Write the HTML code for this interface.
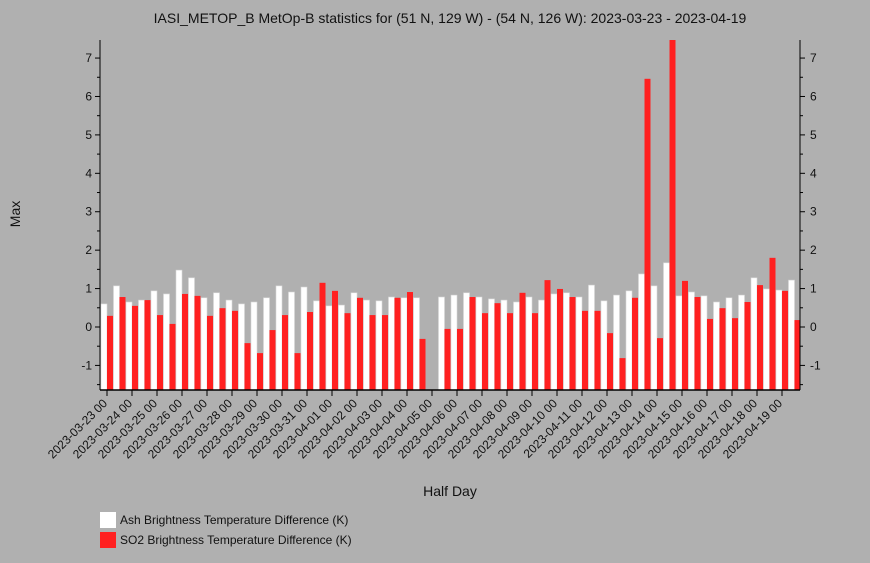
<!DOCTYPE html>
<html><head><meta charset="utf-8"><style>
body{margin:0;background:#b0b0b0;}
svg{display:block;font-family:"Liberation Sans",sans-serif;}
</style></head><body>
<svg id="chart" width="870" height="563" viewBox="0 0 870 563">
<rect width="870" height="563" fill="#b0b0b0"/>
<text x="450" y="23" text-anchor="middle" font-size="14" fill="#111">IASI_METOP_B MetOp-B statistics for (51 N, 129 W) - (54 N, 126 W): 2023-03-23 - 2023-04-19</text>
<text transform="translate(20,214) rotate(-90)" text-anchor="middle" font-size="14" fill="#111">Max</text>
<text x="450" y="496" text-anchor="middle" font-size="14" fill="#111">Half Day</text>
<g id="bars"></g>
<g id="axes"></g>
<g>
<rect x="100" y="512" width="16" height="16" fill="#fff"/>
<text x="120" y="524" font-size="12" fill="#111">Ash Brightness Temperature Difference (K)</text>
<rect x="100" y="532" width="16" height="16" fill="#ff2020"/>
<text x="120" y="544" font-size="12" fill="#111">SO2 Brightness Temperature Difference (K)</text>
</g>
</svg>
<script>
const ashValues=[0.6,1.07,0.65,0.7,0.94,0.86,1.48,1.28,0.76,0.89,0.7,0.6,0.65,0.76,1.07,0.91,1.04,0.68,0.55,0.57,0.89,0.7,0.68,0.78,0.76,0.76,null,0.78,0.83,0.89,0.78,0.73,0.7,0.65,0.78,0.7,0.86,0.89,0.78,1.09,0.68,0.83,0.94,1.38,1.07,1.67,0.81,0.91,0.81,0.65,0.76,0.83,1.28,0.99,0.96,1.22];
const so2Values=[0.29,0.78,0.55,0.7,0.31,0.08,0.86,0.81,0.29,0.49,0.42,-0.42,-0.68,-0.08,0.31,-0.68,0.39,1.15,0.94,0.36,0.76,0.31,0.31,0.76,0.91,-0.31,null,-0.05,-0.05,0.78,0.36,0.62,0.36,0.89,0.36,1.22,0.99,0.78,0.42,0.42,-0.16,-0.81,0.76,6.46,-0.29,7.6,1.2,0.78,0.21,0.49,0.23,0.65,1.09,1.8,0.94,0.18];
const dayLabels=["2023-03-23 00","2023-03-24 00","2023-03-25 00","2023-03-26 00","2023-03-27 00","2023-03-28 00","2023-03-29 00","2023-03-30 00","2023-03-31 00","2023-04-01 00","2023-04-02 00","2023-04-03 00","2023-04-04 00","2023-04-05 00","2023-04-06 00","2023-04-07 00","2023-04-08 00","2023-04-09 00","2023-04-10 00","2023-04-11 00","2023-04-12 00","2023-04-13 00","2023-04-14 00","2023-04-15 00","2023-04-16 00","2023-04-17 00","2023-04-18 00","2023-04-19 00"];
const yTicks=[-1,0,1,2,3,4,5,6,7];
const NS="http://www.w3.org/2000/svg";
const L=100,R=800,T=40,B=390,yMin=-1.64,yMax=7.47;
const y=v=>B-(v-yMin)/(yMax-yMin)*(B-T);
const x=i=>107+12.5*i;
function mk(tag,attrs,parent){const e=document.createElementNS(NS,tag);for(const k in attrs)e.setAttribute(k,attrs[k]);parent.appendChild(e);return e;}
const bars=document.getElementById('bars'),axes=document.getElementById('axes');
ashValues.forEach((v,i)=>{if(v===null)return;const r=mk('rect',{x:x(i)-6,y:y(v),width:6,height:B-y(v),fill:'#fff',stroke:'#d8d8d8','stroke-width':0.6},bars);

});
so2Values.forEach((v,i)=>{if(v===null)return;const vv=Math.min(v,yMax);const r=mk('rect',{x:x(i),y:y(vv),width:6,height:B-y(vv),fill:'#ff2020'},bars);

});
mk('line',{x1:L,y1:T,x2:L,y2:B,stroke:'#000','stroke-width':1},axes);
mk('line',{x1:R,y1:T,x2:R,y2:B,stroke:'#000','stroke-width':1},axes);
mk('line',{x1:L,y1:B,x2:R,y2:B,stroke:'#000','stroke-width':1.5},axes);
yTicks.forEach(t=>{const yy=y(t);
mk('line',{x1:L-5,y1:yy,x2:L,y2:yy,stroke:'#000'},axes);
mk('line',{x1:R,y1:yy,x2:R+5,y2:yy,stroke:'#000'},axes);
const h=y(t-0.5);if(h<B){mk('line',{x1:L-3,y1:h,x2:L,y2:h,stroke:'#000'},axes);mk('line',{x1:R,y1:h,x2:R+3,y2:h,stroke:'#000'},axes);}
const a=mk('text',{x:L-8,y:yy+4,'text-anchor':'end','font-size':12,fill:'#111'},axes);a.textContent=t;


const b=mk('text',{x:R+10,y:yy+4,'font-size':12,fill:'#111'},axes);b.textContent=t;

});
dayLabels.forEach((d,k)=>{const xx=x(2*k);
mk('line',{x1:xx,y1:B,x2:xx,y2:B+6,stroke:'#000'},axes);
const t=mk('text',{transform:`translate(${xx+1},${B+14}) rotate(-45)`,'text-anchor':'end','font-size':12,fill:'#111'},axes);t.textContent=d;

});
</script>
</body></html>
